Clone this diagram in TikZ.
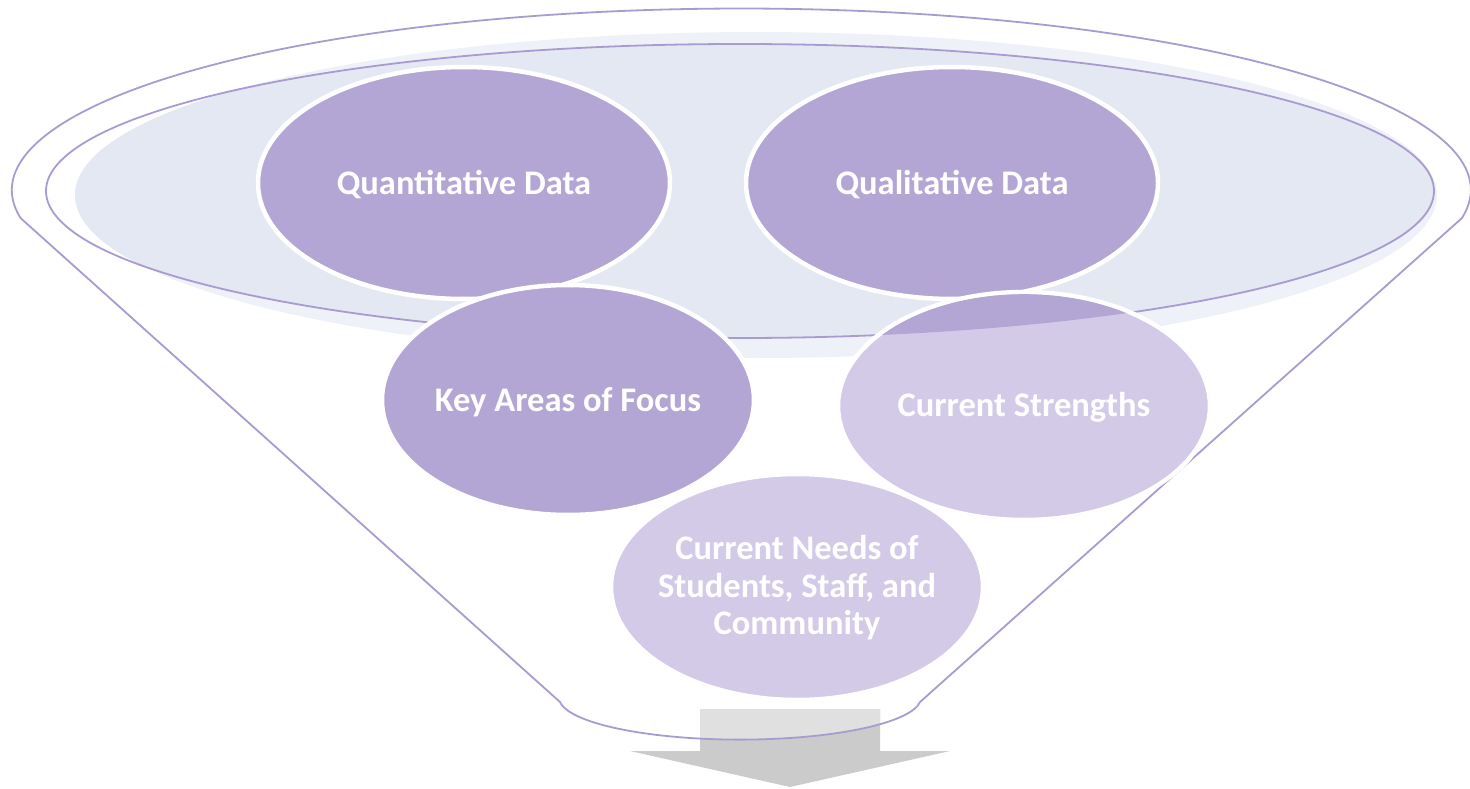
\documentclass[tikz,border=0pt]{standalone}
\usepackage{fontspec}
\setmainfont{Carlito}
\definecolor{darkp}{HTML}{B3A6D4}
\definecolor{lightp}{HTML}{D3CAE8}
\definecolor{rim}{HTML}{A99BD1}
\definecolor{glass}{HTML}{E4E8F2}
\definecolor{glassl}{HTML}{EEF1F7}
\definecolor{arrowd}{HTML}{CBCBCB}
\definecolor{arrowl}{HTML}{E0E0E0}
\begin{document}
\begin{tikzpicture}[x=1pt,y=1pt,
  lbl/.style={text=white, font=\bfseries\fontsize{34.5}{37.5}\selectfont, align=center, inner sep=0pt},
  bubble/.style={draw=white, line width=4.5pt},
  rimline/.style={draw=rim, line width=1.8pt}]
\useasboundingbox (0,0) rectangle (1470,-789);
% glass disc of the funnel mouth
\fill[glassl] (756,-195) ellipse [x radius=681, y radius=163];
\begin{scope}
  \clip (740,-191) ellipse [x radius=694, y radius=147];
  \fill[glass] (756,-195) ellipse [x radius=681, y radius=163];
\end{scope}
\draw[rimline] (740,-191) ellipse [x radius=694, y radius=147];
% arrow below the funnel
\fill[arrowd] (700,-709) -- (880,-709) -- (880,-751) -- (950,-751) -- (790,-787) -- (630,-751) -- (700,-751) -- cycle;
\begin{scope}
  \clip (1462,-218) arc[start angle=-8.87, end angle=188.87, x radius=729.5, y radius=181.5]
        -- (560,-702) arc[start angle=186, end angle=354, x radius=181, y radius=42] -- cycle;
  \fill[arrowl] (700,-709) -- (880,-709) -- (880,-751) -- (950,-751) -- (790,-787) -- (630,-751) -- (700,-751) -- cycle;
\end{scope}
% funnel outline
\draw[rimline, line join=round] (1462,-218) arc[start angle=-8.87, end angle=188.87, x radius=729.5, y radius=181.5]
        -- (560,-702) arc[start angle=186, end angle=354, x radius=181, y radius=42] -- cycle;
% bubbles
\draw[bubble, fill=darkp] (464,-183) ellipse [x radius=206, y radius=116];
\draw[bubble, fill=darkp] (952,-183) ellipse [x radius=206, y radius=116];
\draw[bubble, fill=darkp] (568,-400) ellipse [x radius=186, y radius=115];
\draw[bubble, fill=lightp] (1024,-406) ellipse [x radius=186, y radius=114];
\begin{scope}
  \clip (740,-191) ellipse [x radius=694, y radius=147];
  \fill[darkp] (1024,-406) ellipse [x radius=183.8, y radius=111.8];
\end{scope}
\draw[bubble, fill=lightp] (797,-587) ellipse [x radius=186, y radius=113];
% labels
\node[lbl, anchor=base] (quant) at (464,-194) {Quantitative Data};
\node[lbl, anchor=base] (qual) at (952,-194) {Qualitative Data};
\node[lbl, anchor=base] (focus) at (568,-411) {Key Areas of Focus};
\node[lbl, anchor=base] (strength) at (1024,-416) {Current Strengths};
\node[lbl] (needs) at (797,-588) {Current Needs of\\Students, Staff, and\\Community};
\end{tikzpicture}
\end{document}
